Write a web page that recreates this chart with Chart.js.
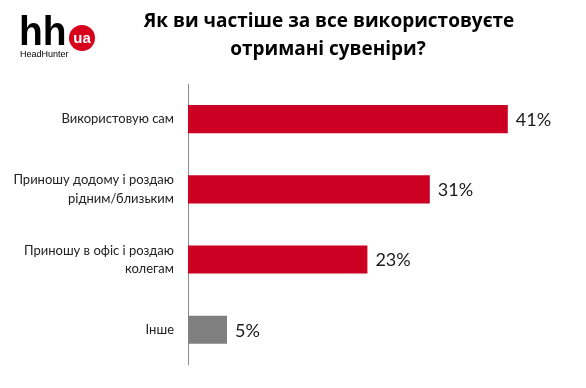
<!DOCTYPE html>
<html>
<head>
<meta charset="utf-8">
<script src="https://cdn.jsdelivr.net/npm/chart.js@4.4.1/dist/chart.umd.min.js"></script>
<style>
html,body{margin:0;padding:0;background:#fff;}
#wrap{width:586px;height:388px;position:relative;}
</style>
</head>
<body>
<div id="wrap"><canvas id="c" width="586" height="388"></canvas></div>
<script>
const titleLines = ["Як ви частіше за все використовуєте", "отримані сувеніри?"];
const categories = [["Використовую сам"], ["Приношу додому і роздаю", "рідним/близьким"], ["Приношу в офіс і роздаю", "колегам"], ["Інше"]];
const values = [41, 31, 23, 5];
const barColors = ["#CC0022", "#CC0022", "#CC0022", "#808080"];
const valueLabels = values.map(v => v + "%");

const headerPlugin = {
  id: "header",
  afterDraw(chart) {
    const ctx = chart.ctx;
    ctx.save();
    // title
    ctx.fillStyle = "#000";
    ctx.font = "bold 19px 'Open Sans', Lato, sans-serif";
    ctx.textAlign = "center";
    ctx.textBaseline = "alphabetic";
    ctx.fillText(titleLines[0], 329, 27);
    ctx.fillText(titleLines[1], 328, 55);
    // logo
    ctx.textAlign = "left";
    ctx.font = "bold 41px 'Liberation Sans Narrow', 'Liberation Sans', Arial, sans-serif";
    ctx.fillStyle = "#000";
    ctx.save();
    ctx.translate(19, 45);
    ctx.scale(0.95, 1);
    ctx.fillText("hh", 0, 0);
    ctx.restore();
    ctx.beginPath();
    ctx.fillStyle = "#D6001C";
    ctx.arc(82, 38, 13, 0, Math.PI * 2);
    ctx.fill();
    ctx.fillStyle = "#fff";
    ctx.font = "bold 15px 'Liberation Sans', Arial, sans-serif";
    ctx.textAlign = "center";
    ctx.fillText("ua", 82, 43);
    ctx.fillStyle = "#000";
    ctx.font = "9px 'Liberation Sans Narrow', 'Liberation Sans', Arial, sans-serif";
    ctx.textAlign = "left";
    ctx.fillText("HeadHunter", 20, 57);
    // value labels
    const meta = chart.getDatasetMeta(0);
    ctx.font = "18px Lato, 'Open Sans', sans-serif";
    ctx.fillStyle = "#1a1a1a";
    ctx.textBaseline = "middle";
    meta.data.forEach((bar, i) => {
      ctx.fillText(valueLabels[i], bar.x + 8, bar.y + 1);
    });
    ctx.restore();
  }
};

new Chart(document.getElementById("c"), {
  type: "bar",
  data: {
    labels: categories,
    datasets: [{
      data: values,
      backgroundColor: barColors,
      borderWidth: 0,
      barPercentage: 0.8,
      categoryPercentage: 0.5
    }]
  },
  options: {
    indexAxis: "y",
    responsive: false,
    animation: false,
    layout: { padding: { top: 84, bottom: 12, left: 0, right: 8 } },
    plugins: { legend: { display: false }, tooltip: { enabled: false }, title: { display: false } },
    scales: {
      x: { display: false, min: 0, max: 50 },
      y: {
        afterFit(scale) { scale.width = 188; },
        grid: { display: false, drawTicks: false },
        border: { display: true, color: "#8c8c8c", width: 1 },
        ticks: {
          padding: 14,
          color: "#222",
          font: { family: "Lato, 'Open Sans', sans-serif", size: 13, lineHeight: 1.4 }
        }
      }
    }
  },
  plugins: [headerPlugin]
});
</script>
</body>
</html>
